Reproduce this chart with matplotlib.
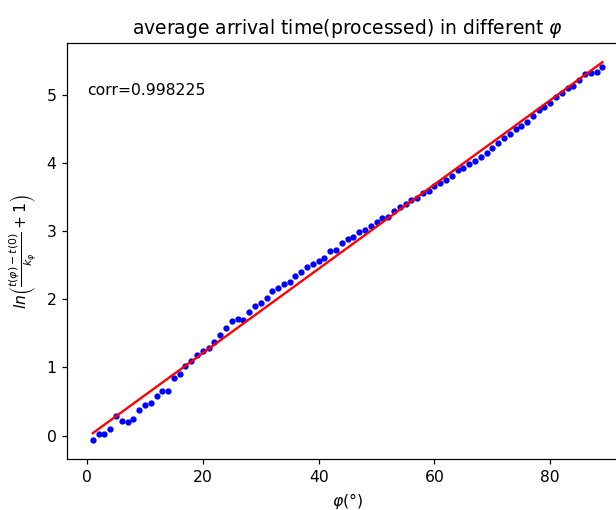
import numpy as np
import matplotlib
matplotlib.use('Agg')
import matplotlib.pyplot as plt

# angle in degrees
phi = list(range(1, 90))
# ln((t(phi)-t(0))/k + 1)
ln_t = [-0.07, 0.02, 0.02, 0.09, 0.29, 0.22, 0.20, 0.25, 0.38, 0.45,
        0.48, 0.58, 0.66, 0.66, 0.84, 0.91, 1.02, 1.09, 1.18, 1.24,
        1.28, 1.38, 1.47, 1.58, 1.68, 1.71, 1.70, 1.81, 1.90, 1.94,
        2.02, 2.12, 2.17, 2.22, 2.26, 2.34, 2.40, 2.47, 2.51, 2.56,
        2.60, 2.71, 2.72, 2.82, 2.89, 2.92, 2.98, 3.02, 3.07, 3.13,
        3.19, 3.21, 3.29, 3.36, 3.39, 3.45, 3.49, 3.56, 3.59, 3.66,
        3.71, 3.75, 3.81, 3.89, 3.93, 3.98, 4.03, 4.09, 4.15, 4.22,
        4.29, 4.36, 4.42, 4.50, 4.54, 4.60, 4.68, 4.77, 4.82, 4.88,
        4.97, 5.02, 5.10, 5.13, 5.22, 5.31, 5.32, 5.33, 5.40]
corr_text = 'corr=0.998225'

x = np.array(phi)
y = np.array(ln_t)

# linear fit
k, b = np.polyfit(x, y, 1)

dpi = 112.5
fig = plt.figure(figsize=(616 / dpi, 510 / dpi), dpi=dpi)
ax = fig.add_axes([0.1093, 0.0994, 0.910, 0.8157])

ax.plot(x, y, 'b.')
ax.plot(x, k * x + b, color='red')
ax.text(0, 5, corr_text)

ax.set_title(r'average arrival time(processed) in different $\varphi$')
ax.set_xlabel(r'$\varphi(\degree)$')
ax.set_ylabel(r'$ln\left(\frac{t(\varphi)-t(0)}{k_\varphi}+1\right)$')

fig.savefig('out.png', dpi=dpi)
